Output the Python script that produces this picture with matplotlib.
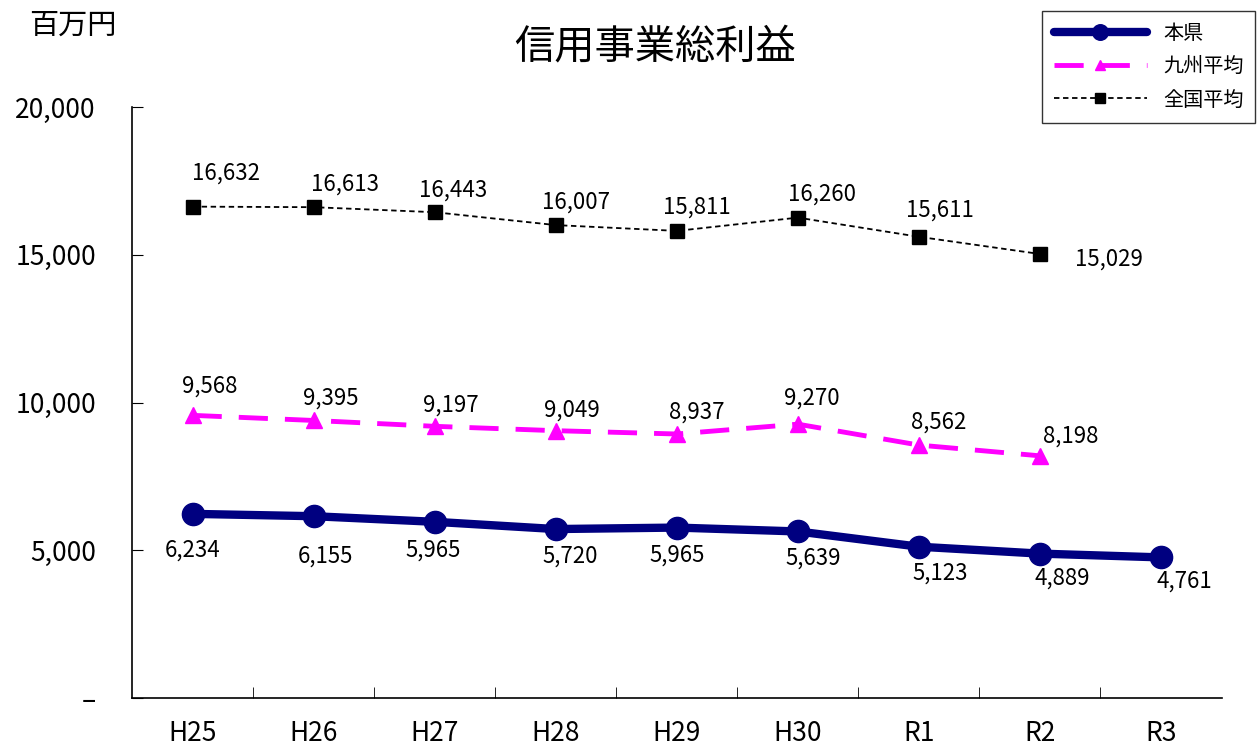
import matplotlib
matplotlib.use("Agg")
import matplotlib.pyplot as plt
import numpy as np

plt.rcParams["font.family"] = ["Noto Sans CJK JP", "DejaVu Sans"]

# データ（単位：百万円）
years = ["H25", "H26", "H27", "H28", "H29", "H30", "R1", "R2", "R3"]
honken = [6234, 6155, 5965, 5720, 5770, 5639, 5123, 4889, 4761]
honken_labels = ["6,234", "6,155", "5,965", "5,720", "5,965", "5,639", "5,123", "4,889", "4,761"]
kyushu = [9568, 9395, 9197, 9049, 8937, 9270, 8562, 8198]
zenkoku = [16632, 16613, 16443, 16007, 15811, 16260, 15611, 15029]

# ラベル位置（ピクセル）
honken_off = [(0, -36), (12, -40), (-2, -28), (14, -27), (0, -28), (15, -27), (21, -26), (22, -25), (23, -24)]
kyushu_off = [(17, 29), (17, 22), (16, 21), (16, 21), (20, 22), (14, 26), (20, 23), (31, 20)]
zenkoku_off = [(33, 34), (31, 23), (18, 22), (20, 23), (20, 24), (24, 24), (21, 27), (69, -5)]

fig = plt.figure(figsize=(12.58, 7.49), dpi=100)
ax = fig.add_axes([0.105, 0.068, 0.866, 0.789])

x = np.arange(len(years))

ax.plot(x, honken, color="#000080", linewidth=6, marker="o", markersize=16,
        solid_capstyle="round", label="本県", zorder=3)
ax.plot(x[:len(kyushu)], kyushu, color="#FF00FF", linewidth=3.5, linestyle=(0, (6, 3.5)),
        marker="^", markersize=11, label="九州平均", zorder=3)
ax.plot(x[:len(zenkoku)], zenkoku, color="black", linewidth=1.3, linestyle=(0, (3, 2)),
        marker="s", markersize=10, label="全国平均", zorder=3)

label_font = dict(fontsize=16, ha="center", va="center", textcoords="offset pixels")
for i, v in enumerate(honken):
    ax.annotate(honken_labels[i], (x[i], v), xytext=honken_off[i], **label_font)
for i, v in enumerate(kyushu):
    ax.annotate(f"{v:,}", (x[i], v), xytext=kyushu_off[i], **label_font)
for i, v in enumerate(zenkoku):
    ax.annotate(f"{v:,}", (x[i], v), xytext=zenkoku_off[i], **label_font)

ax.set_xlim(-0.5, len(years) - 0.5)
ax.set_ylim(0, 20000)
ax.set_yticks([0, 5000, 10000, 15000, 20000])
ax.set_yticklabels(["–", "5,000", "10,000", "15,000", "20,000"])
ax.set_xticks(x)
ax.set_xticklabels(years)
ax.set_xticks(np.arange(0.5, len(years) - 0.5, 1), minor=True)

ax.tick_params(axis="y", direction="in", length=8, pad=26, labelsize=19)
ax.tick_params(axis="x", which="major", length=0, pad=16, labelsize=19)
ax.tick_params(axis="x", which="minor", direction="in", length=8)

for s in ["top", "right"]:
    ax.spines[s].set_visible(False)
for s in ["left", "bottom"]:
    ax.spines[s].set_linewidth(1.2)

fig.text(0.521, 0.937, "信用事業総利益", fontsize=29, ha="center", va="center")
fig.text(0.058, 0.965, "百万円", fontsize=21, ha="center", va="center")

leg = fig.legend(loc="upper right", bbox_to_anchor=(0.998, 0.985), borderaxespad=0,
                 fontsize=14.5, frameon=True, fancybox=False, edgecolor="black",
                 handlelength=4.6, borderpad=0.6, labelspacing=0.6, markerscale=0.7)
leg.get_frame().set_linewidth(1.0)

fig.savefig("out.png", dpi=100)
